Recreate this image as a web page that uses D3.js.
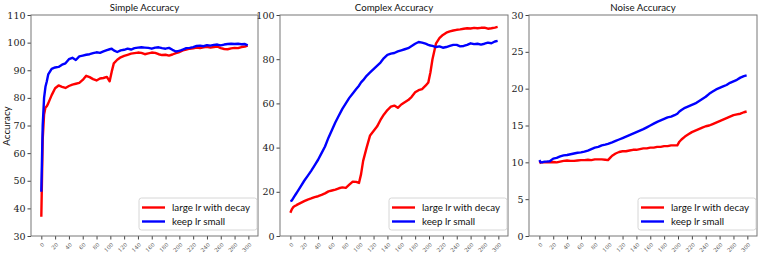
<!DOCTYPE html>
<html><head><meta charset="utf-8">
<script src="https://cdn.jsdelivr.net/npm/d3@7"></script>
<style>body{margin:0;background:#fff}svg{display:block}</style>
</head><body>
<svg id="c" width="761" height="254"></svg>
<script>
const epochs = [0,2,4,6,8,10,15,20,25,30,35,40,45,50,55,60,65,70,75,80,85,90,95,99,102,105,110,115,120,125,130,135,140,145,150,155,160,165,170,175,180,185,190,195,199,202,205,210,215,220,225,230,235,240,245,250,255,260,265,270,275,280,285,290,295,299];

const simpleLarge = [37,65,74,76.5,77,78,81,83.5,84.5,84,83.6,84.3,84.8,85.1,85.4,86.5,88,87.5,86.8,86.3,87,87.2,87.6,86,89.5,92.5,93.8,94.7,95.2,95.6,96,96.2,96.4,96.3,95.8,96.1,96.4,96.3,95.8,95.5,95.6,95.3,95.7,96.2,96.5,96.8,97.2,97.5,97.8,97.9,98.2,98,98.3,98.5,98.2,98.4,98.6,98,97.7,97.6,97.9,98.1,98,98.4,98.6,98.9];
const simpleSmall = [46,70,80,84,86,88.5,90.5,91,91.2,92,92.5,94,94.5,93.7,95,95.3,95.6,95.8,96.2,96.5,96.3,96.8,97.3,97.6,97.8,97.2,96.6,97.2,97.4,97.8,97.5,98,98.2,98.3,98.2,98.1,97.8,98.2,98.3,98,97.8,98.1,97.4,96.8,97,97.2,97.5,98,98.1,98.4,98.8,98.9,98.7,99.1,98.9,99.2,99.3,99,99.3,99.5,99.6,99.5,99.6,99.4,99.5,99];

const complexLarge = [10.5,12,13,13.5,13.8,14.2,15,15.8,16.5,17,17.6,18,18.6,19.3,20.2,20.6,21,21.6,22,21.8,23.2,24.6,24.5,24,28,34,40,45.5,47.5,49.5,52.5,55,57,58.5,59,58,59.5,60.5,61.5,63,65,66,66.5,68,69.5,74,80,87,89.5,91,92,92.6,93,93.3,93.5,93.8,94,93.9,94.2,94,94.2,94.3,93.8,94,94.3,94.6];
const complexSmall = [15.8,16,17,18,19,20,22.5,25,27.2,29.5,32,34.5,37.5,40.5,44.5,48,51.5,54.5,57.5,60,62.5,64.5,66.5,68,69.5,70.5,72.5,74,75.5,77,78.5,80.5,82,82.5,82.8,83.5,84,84.5,85,86,87,87.8,87.5,87,86.5,86.2,86,85.5,85.8,85.2,85.5,86,86.5,86.5,85.8,86,86.5,87.2,86.8,87,86.6,87,87.5,87.2,88,88.3];

const noiseLarge = [9.9,10,10,10,10,10,10,10.05,10,10.1,10.2,10.25,10.2,10.2,10.25,10.3,10.3,10.35,10.3,10.4,10.4,10.4,10.35,10.3,10.6,10.9,11.2,11.4,11.5,11.5,11.6,11.7,11.7,11.8,11.9,11.9,12,12,12.1,12.1,12.2,12.2,12.3,12.3,12.3,12.8,13.1,13.5,13.8,14.1,14.3,14.5,14.7,14.9,15,15.2,15.4,15.6,15.8,16,16.2,16.4,16.5,16.6,16.8,16.9];
const noiseSmall = [10.3,10,10,10.05,10.1,10.1,10.15,10.5,10.6,10.8,10.95,11,11.1,11.2,11.3,11.35,11.45,11.6,11.8,12,12.1,12.3,12.4,12.5,12.6,12.7,12.9,13.1,13.3,13.5,13.7,13.9,14.1,14.3,14.5,14.75,15,15.25,15.5,15.7,15.9,16.1,16.2,16.4,16.6,16.9,17.1,17.4,17.6,17.8,18,18.3,18.6,18.9,19.3,19.6,19.9,20.1,20.3,20.5,20.8,21,21.2,21.5,21.7,21.8];

const xTicks = [0,20,40,60,80,100,120,140,160,180,200,220,240,260,280,300];
const titles = ["Simple Accuracy","Complex Accuracy","Noise Accuracy"];
const yDomains = [[30,110],[0,100],[0,30]];
const yTicks = [[30,40,50,60,70,80,90,100,110],[0,20,40,60,80,100],[0,5,10,15,20,25,30]];
const seriesNames = ["large lr with decay","keep lr small"];
const seriesColors = ["#ff0000","#0000ff"];
const panelData = [[simpleLarge,simpleSmall],[complexLarge,complexSmall],[noiseLarge,noiseSmall]];

const svg = d3.select("#c");
const panels = [{l:31,r:258},{l:280,r:508},{l:529,r:757}];
const plotTop = 15, plotBottom = 236;
const serif = "'DejaVu Serif','Liberation Serif',serif";
const sans = "Lato,'DejaVu Sans',sans-serif";

panels.forEach((p,i)=>{
  const x = d3.scaleLinear().domain([-14.95,313.95]).range([p.l,p.r]);
  const y = d3.scaleLinear().domain(yDomains[i]).range([plotBottom,plotTop]);
  const g = svg.append("g");

  const ya = g.append("g").attr("transform",`translate(${p.l},0)`)
    .call(d3.axisLeft(y).tickValues(yTicks[i]).tickSize(3.5).tickPadding(2));
  ya.select(".domain").remove();
  ya.selectAll("line").attr("stroke","#444");
  ya.selectAll("text").attr("font-family",serif).attr("font-size",9.5).attr("fill","#222");

  const xa = g.append("g").attr("transform",`translate(0,${plotBottom})`)
    .call(d3.axisBottom(x).tickValues(xTicks).tickSize(3.5));
  xa.select(".domain").remove();
  xa.selectAll("line").attr("stroke","#444");
  xa.selectAll("text").attr("font-family",serif).attr("font-size",5.5).attr("fill","#555")
    .attr("text-anchor","end").attr("dy",null).attr("y",null)
    .attr("transform","translate(3,9) rotate(-45)");

  g.append("rect").attr("x",p.l).attr("y",plotTop).attr("width",p.r-p.l).attr("height",plotBottom-plotTop)
    .attr("fill","none").attr("stroke","#777").attr("stroke-width",1);

  const line = d3.line().x((d,k)=>x(epochs[k])).y(d=>y(d));
  panelData[i].forEach((s,j)=>{
    g.append("path").datum(s).attr("d",line).attr("fill","none")
      .attr("stroke",seriesColors[j]).attr("stroke-width",2.4).attr("stroke-linejoin","round");
  });

  g.append("text").attr("x",(p.l+p.r)/2).attr("y",11).attr("text-anchor","middle")
    .attr("font-family",sans).attr("font-size",9.7).attr("fill","#111").text(titles[i]);

  const lw = 118, lh = 32;
  const lx = p.r - lw - 1, ly = 198;
  const lg = g.append("g");
  lg.append("rect").attr("x",lx).attr("y",ly).attr("width",lw).attr("height",lh).attr("rx",2.5)
    .attr("fill","#fff").attr("fill-opacity",0.8).attr("stroke","#ccc").attr("stroke-width",0.8);
  seriesNames.forEach((n,j)=>{
    const yy = ly + 9.5 + j*14;
    lg.append("line").attr("x1",lx+3).attr("x2",lx+26).attr("y1",yy).attr("y2",yy)
      .attr("stroke",seriesColors[j]).attr("stroke-width",2.4);
    lg.append("text").attr("x",lx+33).attr("y",yy+3.5).attr("font-family",sans).attr("font-size",9.8)
      .attr("fill","#111").text(n);
  });
});

svg.append("text").attr("transform","translate(10,126) rotate(-90)").attr("text-anchor","middle")
  .attr("font-family",sans).attr("font-size",9.8).attr("fill","#111").text("Accuracy");
</script>
</body></html>
